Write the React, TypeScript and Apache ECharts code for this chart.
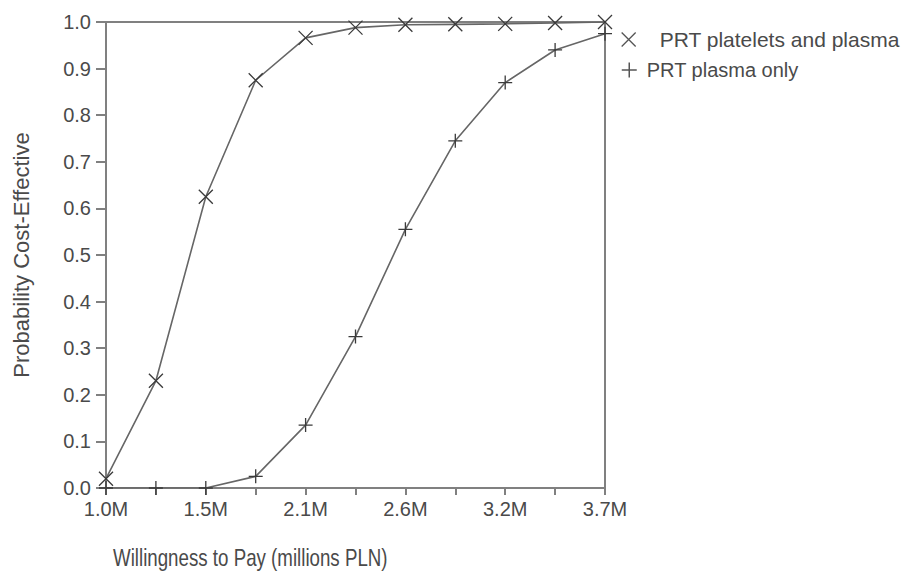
import React, { useEffect, useRef } from "react";
import * as echarts from "echarts";

const categories = ["1.0M", "1.3M", "1.5M", "1.8M", "2.1M", "2.4M", "2.6M", "2.9M", "3.2M", "3.4M", "3.7M"];
const plateletsAndPlasma = [0.02, 0.23, 0.625, 0.875, 0.966, 0.988, 0.994, 0.995, 0.996, 0.998, 1.0];
const plasmaOnly = [0.0, 0.0, 0.0, 0.025, 0.135, 0.325, 0.555, 0.745, 0.87, 0.94, 0.975];
const seriesNames = ["PRT platelets and plasma", "PRT plasma only"];

const X_SYMBOL = "path://M0,0L10,10M10,0L0,10";
const PLUS_SYMBOL = "path://M5,0L5,10M0,5L10,5";

const FONT = "Liberation Sans, Arial, sans-serif";
const TEXT = "#4a4a4a";
const AXIS = "#808080";

export default function App() {
  const ref = useRef<HTMLDivElement>(null);
  useEffect(() => {
    if (!ref.current) return;
    const chart = echarts.init(ref.current, undefined, { renderer: "svg" });
    const markerStyle = { color: "transparent", borderColor: "#3a3a3a", borderWidth: 1.3 };
    chart.setOption({
      animation: false,
      backgroundColor: "#ffffff",
      grid: {
        left: 106,
        right: 296,
        top: 22,
        bottom: 85,
        show: true,
        borderColor: AXIS,
        borderWidth: 2,
      },
      legend: [
        {
          data: [{ name: seriesNames[0], icon: X_SYMBOL }],
          orient: "vertical",
          left: 616,
          top: 24,
          itemWidth: 14,
          itemHeight: 14,
          itemStyle: { color: "transparent", borderColor: "#555", borderWidth: 1.3 },
          textStyle: { fontFamily: FONT, fontSize: 21, color: TEXT, padding: [0, 0, 0, 19] },
          selectedMode: false,
        },
        {
          data: [{ name: seriesNames[1], icon: PLUS_SYMBOL }],
          orient: "vertical",
          left: 616,
          top: 55,
          itemWidth: 15,
          itemHeight: 15,
          itemStyle: { color: "transparent", borderColor: "#555", borderWidth: 1.5 },
          textStyle: { fontFamily: FONT, fontSize: 20, color: TEXT, padding: [0, 0, 0, 5] },
          selectedMode: false,
        },
      ],
      xAxis: {
        type: "category",
        data: categories,
        boundaryGap: false,
        axisLine: { lineStyle: { color: AXIS, width: 2 } },
        axisTick: { show: true, length: 7, interval: 0, lineStyle: { color: AXIS, width: 2 } },
        axisLabel: { interval: 1, margin: 11, fontFamily: FONT, fontSize: 20, color: TEXT },
        splitLine: { show: false },
      },
      yAxis: {
        type: "value",
        min: 0,
        max: 1,
        interval: 0.1,
        name: "Probability Cost-Effective",
        nameLocation: "middle",
        nameRotate: 90,
        nameGap: 74,
        nameTextStyle: { fontFamily: FONT, fontSize: 22, color: TEXT },
        axisLine: { show: true, lineStyle: { color: AXIS, width: 2 } },
        axisTick: { show: true, length: 10, lineStyle: { color: AXIS, width: 2 } },
        axisLabel: {
          margin: 15,
          fontFamily: FONT,
          fontSize: 20,
          color: TEXT,
          formatter: (v: number) => v.toFixed(1),
        },
        splitLine: { show: false },
      },
      graphic: [
        {
          type: "text",
          x: 113,
          y: 558,
          scaleX: 0.78,
          style: {
            text: "Willingness to Pay (millions PLN)",
            font: `24px ${FONT}`,
            fill: TEXT,
            textAlign: "left",
            textVerticalAlign: "middle",
          },
        },
      ],
      series: [
        {
          name: seriesNames[0],
          type: "line",
          data: plateletsAndPlasma,
          symbol: X_SYMBOL,
          symbolSize: 14,
          lineStyle: { color: "#666", width: 1.6 },
          itemStyle: markerStyle,
          z: 3,
        },
        {
          name: seriesNames[1],
          type: "line",
          data: plasmaOnly,
          symbol: PLUS_SYMBOL,
          symbolSize: 14,
          lineStyle: { color: "#666", width: 1.6 },
          itemStyle: markerStyle,
          z: 3,
        },
      ],
    });
    return () => chart.dispose();
  }, []);
  return <div ref={ref} style={{ width: 901, height: 573, position: "absolute", left: 0, top: 0 }} />;
}
